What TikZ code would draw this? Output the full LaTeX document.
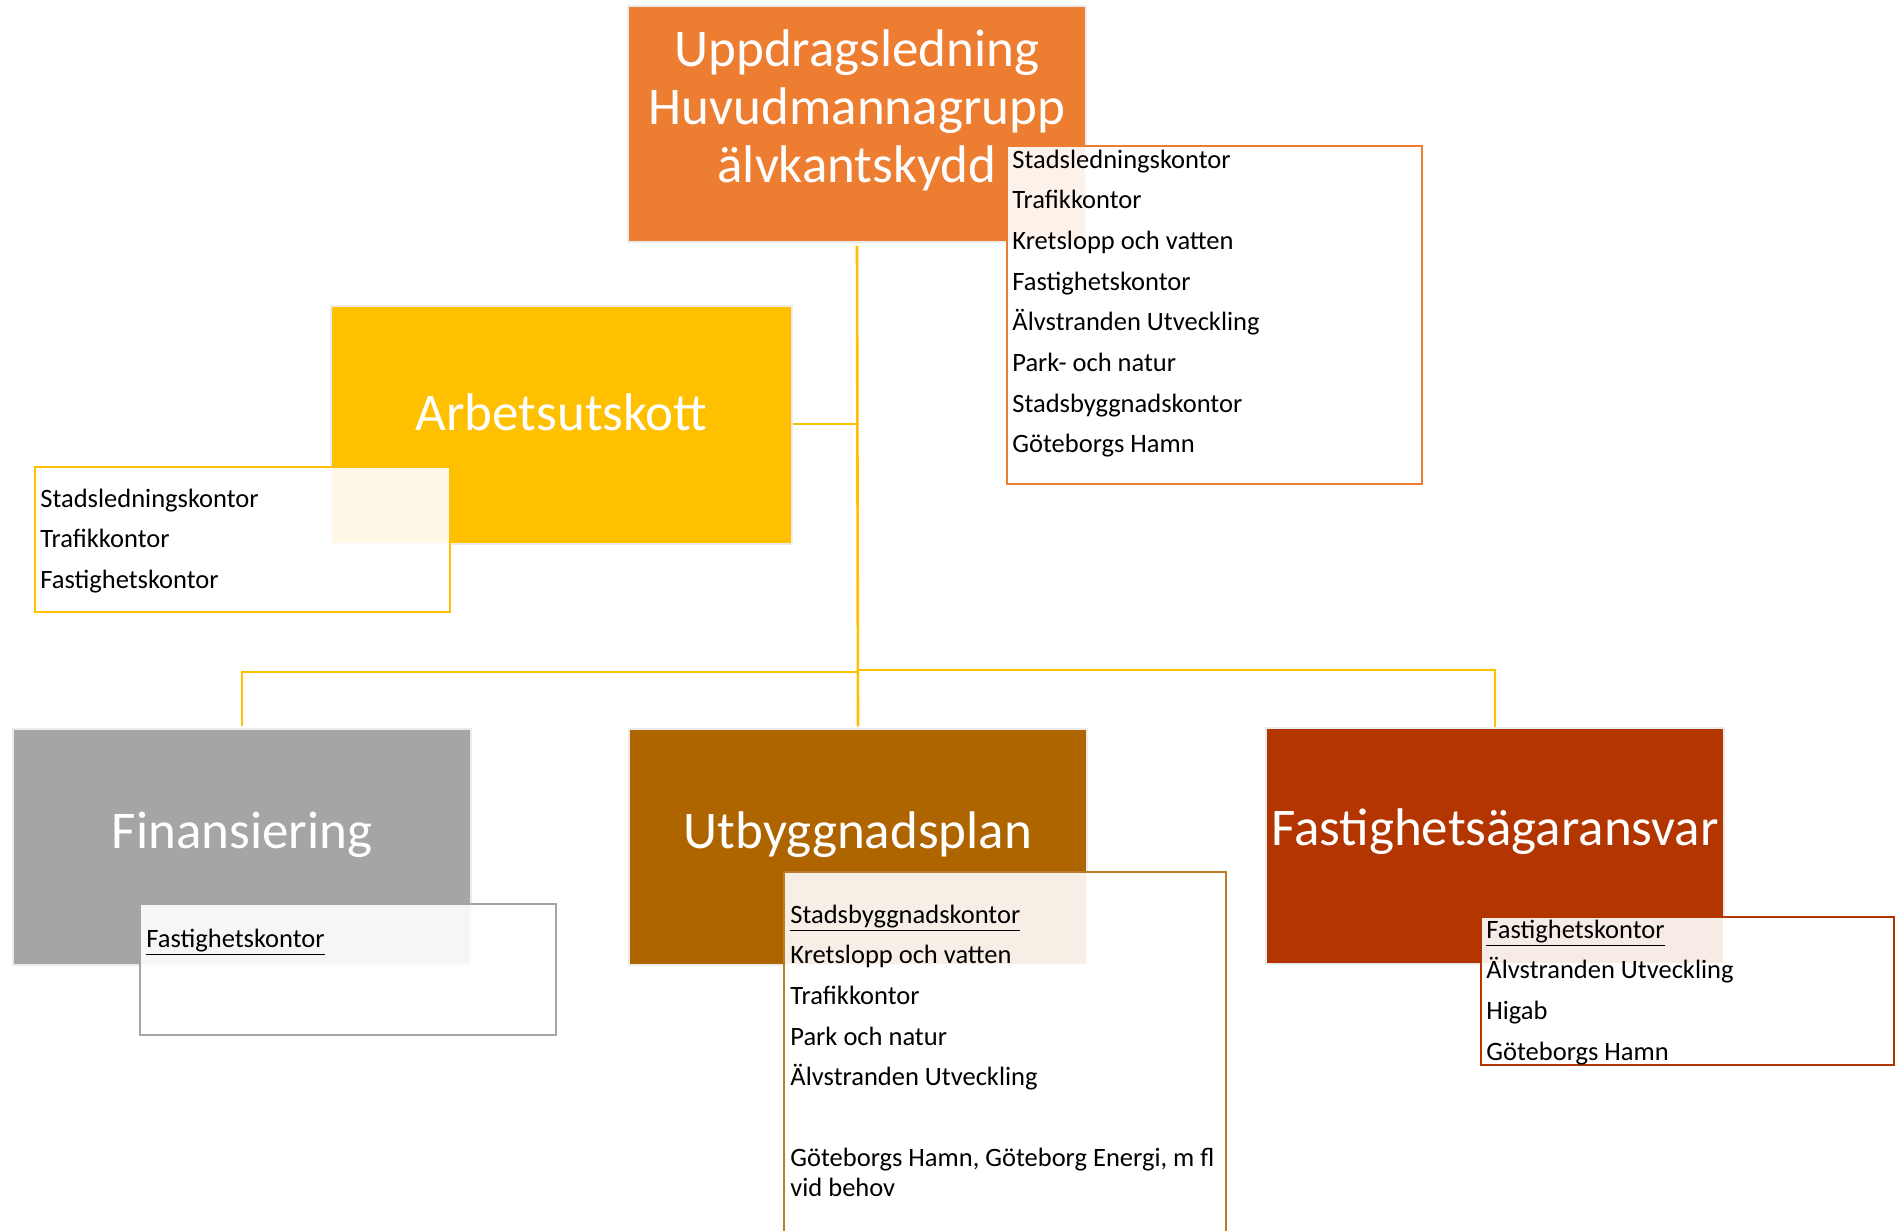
\documentclass[tikz,border=0pt]{standalone}
\usepackage{fontspec}
\setmainfont{Carlito}
\definecolor{cTop}{HTML}{ED7D31}
\definecolor{cArb}{HTML}{FFC000}
\definecolor{cFin}{HTML}{A5A5A5}
\definecolor{cUtb}{HTML}{AE6500}
\definecolor{cFast}{HTML}{B33500}
\tikzset{
  bigbox/.style={rectangle, inner sep=0pt, minimum width=229pt, minimum height=118pt, draw=black!8, line width=0.6pt},
  biglbl/.style={text=white, align=center, inner sep=0pt, font=\fontsize{26.5}{29}\selectfont},
  listbox/.style={rectangle, inner sep=0pt, fill=white, fill opacity=0.9, line width=1.3pt},
  lstxt/.style={anchor=base west, inner sep=0pt, font=\fontsize{13.25}{15}\selectfont},
  conn/.style={draw=cArb, line width=1.3pt}
}
\begin{document}
\begin{tikzpicture}[x=0.5pt,y=-0.5pt]
\useasboundingbox (0,0) rectangle (1896,1231);
\clip (0,0) rectangle (1896,1231);

% main boxes
\node[bigbox, fill=cTop] (top) at (857,124) {};
\node[bigbox, fill=cArb, minimum width=230.5pt, minimum height=119pt] (arb) at (561.5,425) {};
\node[bigbox, fill=cFin] (fin) at (242,847) {};
\node[bigbox, fill=cUtb] (utb) at (858,847) {};
\node[bigbox, fill=cFast] (fast) at (1495,846) {};

% connectors
\coordinate (jl) at (857,672);
\coordinate (jr) at (857,670);
\coordinate (ja) at (857,424);
\draw[conn] ([yshift=-1.5pt]top.south) -- ([yshift=1pt]utb.north);
\draw[conn] (arb.east |- ja) -- (ja);
\draw[conn] ([yshift=1pt]fin.north) |- (jl);
\draw[conn] (jr) -| (fast.north);

% labels
\node[biglbl] (topL) at (857,110) {Uppdragsledning\\Huvudmannagrupp\\älvkantskydd};
\node[biglbl] (arbL) at (561.5,412) {Arbetsutskott};
\node[biglbl] (finL) at (242,835) {Finansiering};
\node[biglbl] (utbL) at (858,835) {Utbyggnadsplan};
\node[biglbl] (fastL) at (1495,832) {Fastighetsägaransvar};

% list boxes
\node[listbox, draw=cTop, minimum width=207.5pt, minimum height=169pt] (topList) at (1214.5,315) {};
\node[listbox, draw=cArb, minimum width=207.5pt, minimum height=72.5pt] (arbList) at (242.5,539.5) {};
\node[listbox, draw=cFin, minimum width=208pt, minimum height=65.5pt] (finList) at (348,969.5) {};
\node[listbox, draw=cUtb!85!white, minimum width=221pt, minimum height=194pt] (utbList) at (1005,1066) {};
\node[listbox, draw=cFast, minimum width=206.5pt, minimum height=74pt] (fastList) at (1687.5,991) {};

% top list text
\node[lstxt] (t1) at (1012,168) {Stadsledningskontor};
\node[lstxt] (t2) at (1012,208.7) {Trafikkontor};
\node[lstxt] (t3) at (1012,249.4) {Kretslopp och vatten};
\node[lstxt] (t4) at (1012,290.1) {Fastighetskontor};
\node[lstxt] (t5) at (1012,330.8) {Älvstranden Utveckling};
\node[lstxt] (t6) at (1012,371.5) {Park- och natur};
\node[lstxt] (t7) at (1012,412.2) {Stadsbyggnadskontor};
\node[lstxt] (t8) at (1012,452.9) {Göteborgs Hamn};

% arb list text
\node[lstxt] (a1) at (40,507) {Stadsledningskontor};
\node[lstxt] (a2) at (40,547.7) {Trafikkontor};
\node[lstxt] (a3) at (40,588.4) {Fastighetskontor};

% fin list text
\node[lstxt] (f1) at (146,947) {\underline{Fastighetskontor}};

% utb list text
\node[lstxt] (u1) at (790,923) {\underline{Stadsbyggnadskontor}};
\node[lstxt] (u2) at (790,963.7) {Kretslopp och vatten};
\node[lstxt] (u3) at (790,1004.4) {Trafikkontor};
\node[lstxt] (u4) at (790,1045.1) {Park och natur};
\node[lstxt] (u5) at (790,1085.8) {Älvstranden Utveckling};
\node[lstxt] (u6) at (790,1166.6) {Göteborgs Hamn, Göteborg Energi, m fl};
\node[lstxt] (u7) at (790,1196.5) {vid behov};

% fast list text
\node[lstxt] (s1) at (1486,938) {\underline{Fastighetskontor}};
\node[lstxt] (s2) at (1486,978.7) {Älvstranden Utveckling};
\node[lstxt] (s3) at (1486,1019.4) {Higab};
\node[lstxt] (s4) at (1486,1060) {Göteborgs Hamn};
\end{tikzpicture}
\end{document}
